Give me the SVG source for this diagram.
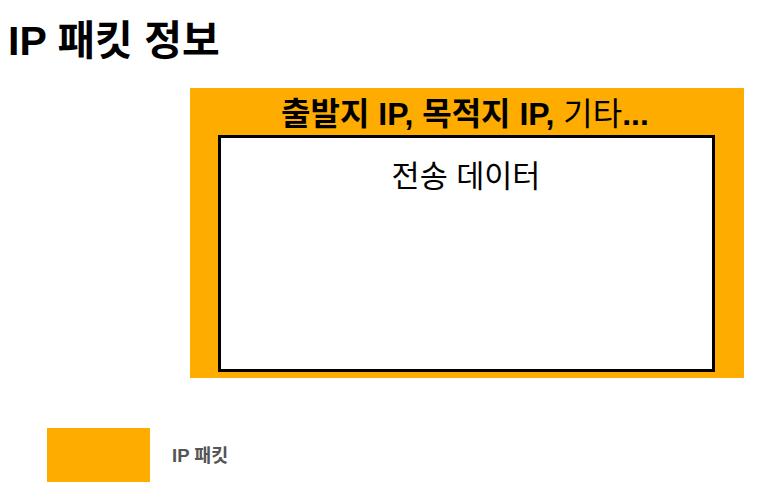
<svg xmlns="http://www.w3.org/2000/svg" width="757" height="500" viewBox="0 0 757 500">
<style>
text{font-family:"Liberation Sans","Noto Sans CJK KR",sans-serif;}
.title{font-size:41px;font-weight:bold;fill:#000;}
.hdr{font-size:32px;font-weight:bold;fill:#000;text-anchor:middle;}
.data{font-size:30.5px;fill:#000;text-anchor:middle;}
.legend{font-size:18.5px;font-weight:bold;fill:#555;}
.packet{fill:#FFAC00;}
</style>
<rect width="757" height="500" fill="#fff"/>
<text class="title" x="8" y="55">IP 패킷 정보</text>
<g id="ip-packet">
<rect class="packet" x="190" y="88" width="554" height="290"/>
<text class="hdr" x="465" y="125">출발지 IP, 목적지 IP, <tspan font-weight="normal">기타</tspan>...</text>
</g>
<g id="payload">
<rect x="219.5" y="136.5" width="494" height="234" fill="#fff" stroke="#000" stroke-width="3"/>
<text class="data" x="466" y="187">전송 데이터</text>
</g>
<g id="legend">
<rect class="packet" x="47" y="428" width="103" height="54"/>
<text class="legend" x="172" y="462">IP 패킷</text>
</g>
<g id="connectors"/>
</svg>
